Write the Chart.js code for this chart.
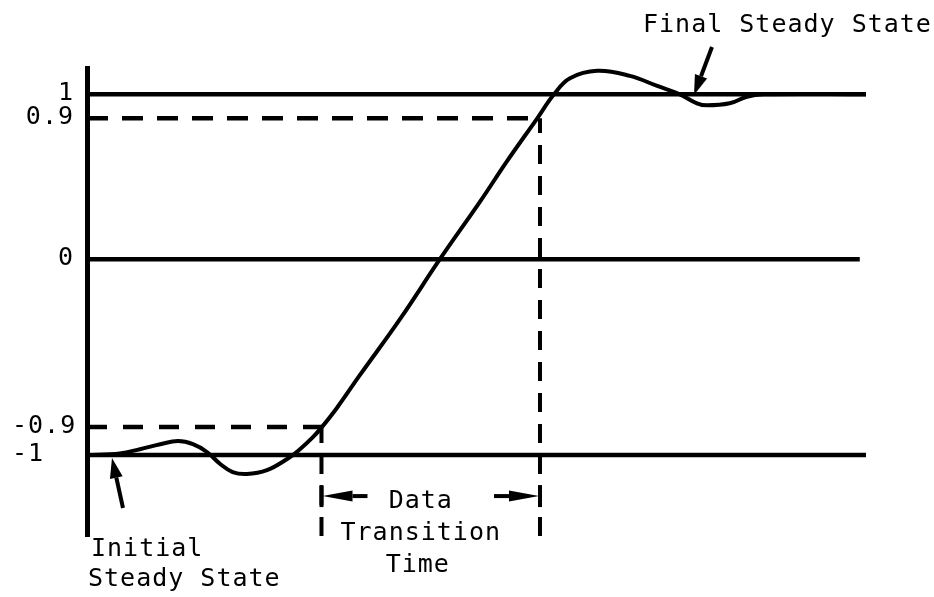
<!DOCTYPE html>
<html>
<head>
<meta charset="utf-8">
<title>Data Transition Time</title>
<script src="https://cdn.jsdelivr.net/npm/chart.js@4/dist/chart.umd.min.js"></script>
<style>
    html, body { margin: 0; padding: 0; background: #fff; }
    #wrap { width: 934px; height: 597px; }
</style>
</head>
<body>
<div id="wrap"><canvas id="transitionChart" width="934" height="597"></canvas></div>
<script>
// Response curve: time (0..100) and signal level
const curveTime = [0, 4.2, 6.8, 9.4, 11.7, 13.6, 15.4, 17.1, 18.7, 20.5, 23.1, 25.7, 27.3, 29.0,
    30.15, 32.1, 35.0, 40.2, 45.3, 50.5, 53.9, 57.8, 59.95, 62.0, 65.5, 69.7, 73.2, 76.1,
    78.3, 79.6, 82.5, 84.7, 86.8, 100];
const curveLevel = [-1, -0.994, -0.979, -0.961, -0.95, -0.961, -0.989, -1.032, -1.061, -1.068, -1.054, -1.014, -0.98, -0.936,
    -0.9, -0.796, -0.623, -0.32, 0, 0.371, 0.625, 0.9, 1.0, 1.067, 1.098, 1.077, 1.035, 1.0,
    0.9625, 0.954, 0.9625, 0.99, 1.0, 1.0];

// Reference levels (solid) and where each one stops on the time axis
const solidLevels = [1, 0, -1];
const solidLevelEnd = [100, 99.2, 100];

// 10% / 90% thresholds and the times the curve crosses them
const thresholdLevels = [-0.9, 0.9];
const crossingTime = [30.1, 58.15];

// Axis ticks
const tickValues = [1, 0.9, 0, -0.9, -1];
const tickLabels = ["1", "0.9", "0", "-0.9", "-1"];
const axisRange = [-1.29, 1.11];
const timeRange = [0, 100];

const FONT = "25px 'DejaVu Sans Mono'";

// The level axis is hand-spaced: piecewise-linear between the labelled levels
const warpFrom = [-1, -0.9, 0, 0.9, 1];
const warpTo = [-1, -0.845, 0.086, 0.867, 1];
const slopeBelow = 1.547, slopeAbove = 1.326;

function warp(v) {
    if (v <= warpFrom[0]) return warpTo[0] + (v - warpFrom[0]) * slopeBelow;
    const n = warpFrom.length - 1;
    if (v >= warpFrom[n]) return warpTo[n] + (v - warpFrom[n]) * slopeAbove;
    for (let i = 0; i < n; i++) {
        if (v <= warpFrom[i + 1]) {
            const f = (v - warpFrom[i]) / (warpFrom[i + 1] - warpFrom[i]);
            return warpTo[i] + f * (warpTo[i + 1] - warpTo[i]);
        }
    }
}

function unwarp(w) {
    if (w <= warpTo[0]) return warpFrom[0] + (w - warpTo[0]) / slopeBelow;
    const n = warpTo.length - 1;
    if (w >= warpTo[n]) return warpFrom[n] + (w - warpTo[n]) / slopeAbove;
    for (let i = 0; i < n; i++) {
        if (w <= warpTo[i + 1]) {
            const f = (w - warpTo[i]) / (warpTo[i + 1] - warpTo[i]);
            return warpFrom[i] + f * (warpFrom[i + 1] - warpFrom[i]);
        }
    }
}

class LevelScale extends Chart.LinearScale {
    getPixelForValue(value) {
        return super.getPixelForValue(warp(value));
    }
    getValueForPixel(pixel) {
        return unwarp(super.getValueForPixel(pixel));
    }
}
LevelScale.id = "level";
LevelScale.defaults = Chart.LinearScale.defaults;
Chart.register(LevelScale);

function seg(x0, y0, x1, y1) {
    return [{ x: x0, y: y0 }, { x: x1, y: y1 }];
}

function lineSet(data, width, dash) {
    return {
        data: data,
        borderColor: "#000",
        borderWidth: width,
        borderDash: dash || [],
        pointRadius: 0,
        fill: false,
        tension: 0
    };
}

// Filled narrow arrowhead with a shaft
function arrow(ctx, x0, y0, x1, y1, headLen, halfW) {
    const ang = Math.atan2(y1 - y0, x1 - x0);
    const bx = x1 - Math.cos(ang) * headLen;
    const by = y1 - Math.sin(ang) * headLen;
    ctx.beginPath();
    ctx.moveTo(x0, y0);
    ctx.lineTo(bx, by);
    ctx.lineWidth = 4;
    ctx.stroke();
    ctx.beginPath();
    ctx.moveTo(x1, y1);
    ctx.lineTo(bx + Math.sin(ang) * halfW, by - Math.cos(ang) * halfW);
    ctx.lineTo(bx - Math.sin(ang) * halfW, by + Math.cos(ang) * halfW);
    ctx.closePath();
    ctx.fill();
}

const annotations = {
    id: "annotations",
    afterDraw(chart) {
        const ctx = chart.ctx;
        const xs = chart.scales.x, ys = chart.scales.y;
        ctx.save();
        ctx.fillStyle = "#000";
        ctx.strokeStyle = "#000";
        ctx.font = FONT;
        ctx.letterSpacing = "1px";
        ctx.textBaseline = "alphabetic";

        // level labels; negative ones are flush left
        tickValues.forEach((v, i) => {
            const y = ys.getPixelForValue(v) + 6;
            if (v < 0) {
                ctx.textAlign = "left";
                ctx.fillText(tickLabels[i], 12, y);
            } else {
                ctx.textAlign = "right";
                ctx.fillText(tickLabels[i], 74, y);
            }
        });

        ctx.textAlign = "left";
        ctx.fillText("Final Steady State", 643, 32);
        ctx.fillText("Initial", 91, 556);
        ctx.fillText("Steady State", 88, 586);

        const xa = xs.getPixelForValue(crossingTime[0]);
        const xb = xs.getPixelForValue(crossingTime[1]);
        const yArrow = ys.getPixelForValue(-1) + 41;
        const mid = (xa + xb) / 2 - 10;
        ctx.textAlign = "center";
        ctx.fillText("Data", mid, 508);
        ctx.fillText("Transition", mid, 540);
        ctx.fillText("Time", mid - 3, 572);

        ctx.lineCap = "butt";
        arrow(ctx, xa + 46, yArrow, xa + 1, yArrow, 30, 5.5);
        arrow(ctx, xb - 46, yArrow, xb - 1, yArrow, 30, 5.5);
        ctx.lineWidth = 4;
        [xa, xb].forEach(x => {
            ctx.beginPath();
            ctx.moveTo(x, yArrow - 11);
            ctx.lineTo(x, yArrow + 11);
            ctx.stroke();
        });

        // steady state pointers
        arrow(ctx, 123, 508, 112, 458, 20, 6.5);
        arrow(ctx, 712, 47, 694, 95, 20, 6.5);
        ctx.restore();
    }
};

const datasets = [];
datasets.push({
    data: curveTime.map((t, i) => ({ x: t, y: curveLevel[i] })),
    borderColor: "#000",
    borderWidth: 4,
    pointRadius: 0,
    fill: false,
    tension: 0.4
});
solidLevels.forEach((lvl, i) => {
    datasets.push(lineSet(seg(timeRange[0], lvl, solidLevelEnd[i], lvl), 4.5));
});
// dashed threshold lines out to each crossing; the drops are drawn up from the axis bottom
datasets.push(lineSet(seg(timeRange[0], thresholdLevels[0], crossingTime[0], thresholdLevels[0]), 4.5, [20, 16]));
datasets.push(lineSet(seg(timeRange[0], thresholdLevels[1], crossingTime[1], thresholdLevels[1]), 4.5, [21, 14]));
datasets.push(lineSet(seg(crossingTime[0], axisRange[0], crossingTime[0], thresholdLevels[0]), 4, [19, 12]));
datasets.push(lineSet(seg(crossingTime[1], axisRange[0], crossingTime[1], thresholdLevels[1]), 4, [19, 12]));

new Chart(document.getElementById("transitionChart"), {
    type: "line",
    data: { datasets: datasets },
    options: {
        responsive: false,
        animation: false,
        events: [],
        layout: { padding: { top: 68, right: 68, bottom: 61, left: 0 } },
        plugins: {
            legend: { display: false },
            tooltip: { enabled: false }
        },
        scales: {
            x: {
                type: "linear",
                min: timeRange[0],
                max: timeRange[1],
                bounds: "data",
                display: false
            },
            y: {
                type: "level",
                min: warp(axisRange[0]),
                max: warp(axisRange[1]),
                bounds: "data",
                grid: { display: false },
                ticks: { display: false },
                border: { display: true, width: 5, color: "#000" },
                afterFit(scale) { scale.width = 87; }
            }
        }
    },
    plugins: [annotations]
});
</script>
</body>
</html>
